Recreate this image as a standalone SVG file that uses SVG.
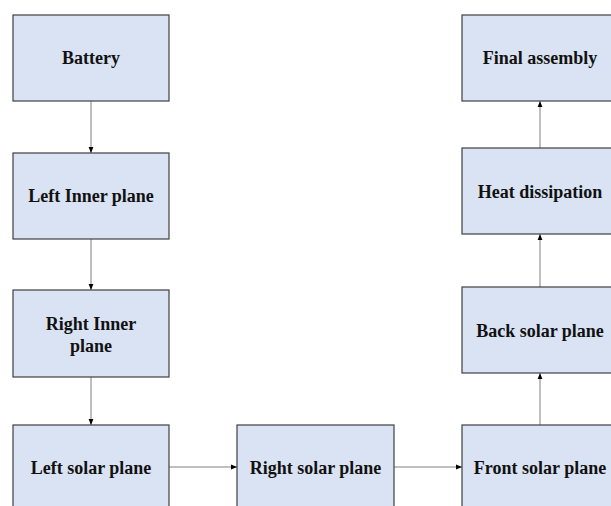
<svg xmlns="http://www.w3.org/2000/svg" width="611" height="506" viewBox="0 0 611 506">
<style>
.box{fill:#dae3f3;stroke:#404040;stroke-width:1.2}
.lbl{font-family:"Liberation Serif","Times New Roman",serif;font-weight:bold;font-size:18px;fill:#111;text-anchor:middle}
.conn{stroke:#808080;stroke-width:1;fill:none;marker-end:url(#ah)}
</style>
<defs>
<marker id="ah" viewBox="0 0 10 10" refX="10" refY="5" markerWidth="6" markerHeight="6" markerUnits="userSpaceOnUse" orient="auto">
<path d="M0,1 L10,5 L0,9 z" fill="#000"/>
</marker>
</defs>
<rect width="611" height="506" fill="#fff"/>
<g id="connectors">
<line class="conn" x1="91" y1="101" x2="91" y2="153"/>
<line class="conn" x1="91" y1="239" x2="91" y2="290"/>
<line class="conn" x1="91" y1="377" x2="91" y2="425"/>
<line class="conn" x1="169" y1="467" x2="237" y2="467"/>
<line class="conn" x1="394" y1="467" x2="462" y2="467"/>
<line class="conn" x1="540" y1="425" x2="540" y2="373"/>
<line class="conn" x1="540" y1="287" x2="540" y2="234"/>
<line class="conn" x1="540" y1="148" x2="540" y2="101"/>
</g>
<g id="battery"><rect class="box" x="13" y="15" width="156" height="86"/><text class="lbl" x="91" y="64">Battery</text></g>
<g id="left-inner-plane"><rect class="box" x="13" y="153" width="156" height="86"/><text class="lbl" x="91" y="202">Left Inner plane</text></g>
<g id="right-inner-plane"><rect class="box" x="13" y="290" width="156" height="87"/><text class="lbl" x="91" y="330">Right Inner</text><text class="lbl" x="91" y="352">plane</text></g>
<g id="left-solar-plane"><rect class="box" x="13" y="425" width="156" height="86"/><text class="lbl" x="91" y="474">Left solar plane</text></g>
<g id="right-solar-plane"><rect class="box" x="237" y="425" width="157" height="86"/><text class="lbl" x="315.5" y="474">Right solar plane</text></g>
<g id="front-solar-plane"><rect class="box" x="462" y="425" width="156" height="86"/><text class="lbl" x="540" y="474">Front solar plane</text></g>
<g id="back-solar-plane"><rect class="box" x="462" y="287" width="156" height="86"/><text class="lbl" x="540" y="337">Back solar plane</text></g>
<g id="heat-dissipation"><rect class="box" x="462" y="148" width="156" height="86"/><text class="lbl" x="540" y="198">Heat dissipation</text></g>
<g id="final-assembly"><rect class="box" x="462" y="15" width="156" height="86"/><text class="lbl" x="540" y="64">Final assembly</text></g>
</svg>
